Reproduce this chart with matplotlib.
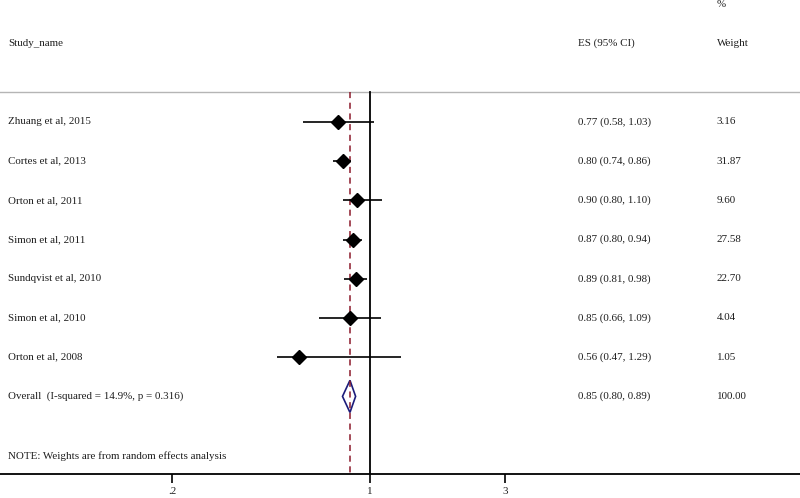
import matplotlib
matplotlib.use("Agg")
import matplotlib.pyplot as plt
from matplotlib.patches import Polygon

studies = ["Zhuang et al, 2015", "Cortes et al, 2013", "Orton et al, 2011",
           "Simon et al, 2011", "Sundqvist et al, 2010", "Simon et al, 2010",
           "Orton et al, 2008"]
es = [0.77, 0.80, 0.90, 0.87, 0.89, 0.85, 0.56]
lo = [0.58, 0.74, 0.80, 0.80, 0.81, 0.66, 0.47]
hi = [1.03, 0.86, 1.10, 0.94, 0.98, 1.09, 1.29]
weights = [3.16, 31.87, 9.60, 27.58, 22.70, 4.04, 1.05]
overall_label = "Overall  (I-squared = 14.9%, p = 0.316)"
overall_es, overall_lo, overall_hi = 0.85, 0.80, 0.89
overall_weight = 100.00
note = "NOTE: Weights are from random effects analysis"
xticks = [0.2, 1, 3]
xticklabels = [".2", "1", "3"]

plt.rcParams['font.family'] = ['Liberation Serif', 'DejaVu Serif']
fs = 7.9
txt_col = "#1e1e1e"

fig = plt.figure(figsize=(8, 4.98), dpi=100)
ax = fig.add_axes([0, 24/498, 1, 474/498])
ax.set_xscale("log")
ax.set_xlim(0.0494, 33.0)
ax.set_ylim(8.98, -3.112)

for s in ["top", "left", "right"]:
    ax.spines[s].set_visible(False)
ax.spines["bottom"].set_linewidth(1.3)
ax.set_yticks([])
ax.set_xticks(xticks)
ax.set_xticklabels(xticklabels, fontsize=fs, color=txt_col)
ax.minorticks_off()
ax.tick_params(axis="x", direction="out", length=6.5, width=1.2, pad=2.5)

# header line and reference lines
ax.axhline(-0.765, color="#b5b5b5", lw=1)
ax.plot([1, 1], [-0.765, 8.98], color="black", lw=1.3)
ax.plot([overall_es, overall_es], [-0.765, 8.98], color="#8b1a2b", lw=1.1,
        ls=(0, (4, 3)))

tr = ax.get_yaxis_transform()
x_name, x_es, x_w = 0.01, 0.722, 0.896

# headers
ax.text(x_name, -2, "Study_name", transform=tr, fontsize=fs, color=txt_col, va="center")
ax.text(x_es, -2, "ES (95% CI)", transform=tr, fontsize=fs, color=txt_col, va="center")
ax.text(x_w, -2, "Weight", transform=tr, fontsize=fs, color=txt_col, va="center")
ax.text(x_w, -3.0, "%", transform=tr, fontsize=fs, color=txt_col, va="center")

ys = list(range(len(studies)))
ax.hlines(ys, lo, hi, color="black", lw=1.2)
ax.plot(es, ys, "D", color="black", markersize=7.5)

for y, name, e, l, h, w in zip(ys, studies, es, lo, hi, weights):
    ax.text(x_name, y, name, transform=tr, fontsize=fs, color=txt_col, va="center")
    ax.text(x_es, y, f"{e:.2f} ({l:.2f}, {h:.2f})", transform=tr,
            fontsize=fs, color=txt_col, va="center")
    ax.text(x_w, y, f"{w:.2f}", transform=tr, fontsize=fs, color=txt_col, va="center")

yo = len(studies)
dia = Polygon([(overall_lo, yo), (overall_es, yo - 0.41),
               (overall_hi, yo), (overall_es, yo + 0.41)],
              closed=True, fill=False, edgecolor="#1c1c7a", lw=1.2)
ax.add_patch(dia)
ax.text(x_name, yo, overall_label, transform=tr, fontsize=fs, color=txt_col, va="center")
ax.text(x_es, yo, f"{overall_es:.2f} ({overall_lo:.2f}, {overall_hi:.2f})",
        transform=tr, fontsize=fs, color=txt_col, va="center")
ax.text(x_w, yo, f"{overall_weight:.2f}", transform=tr, fontsize=fs,
        color=txt_col, va="center")

ax.text(x_name, yo + 1.53, note, transform=tr, fontsize=fs, color=txt_col, va="center")

fig.savefig("out.png", dpi=100)
